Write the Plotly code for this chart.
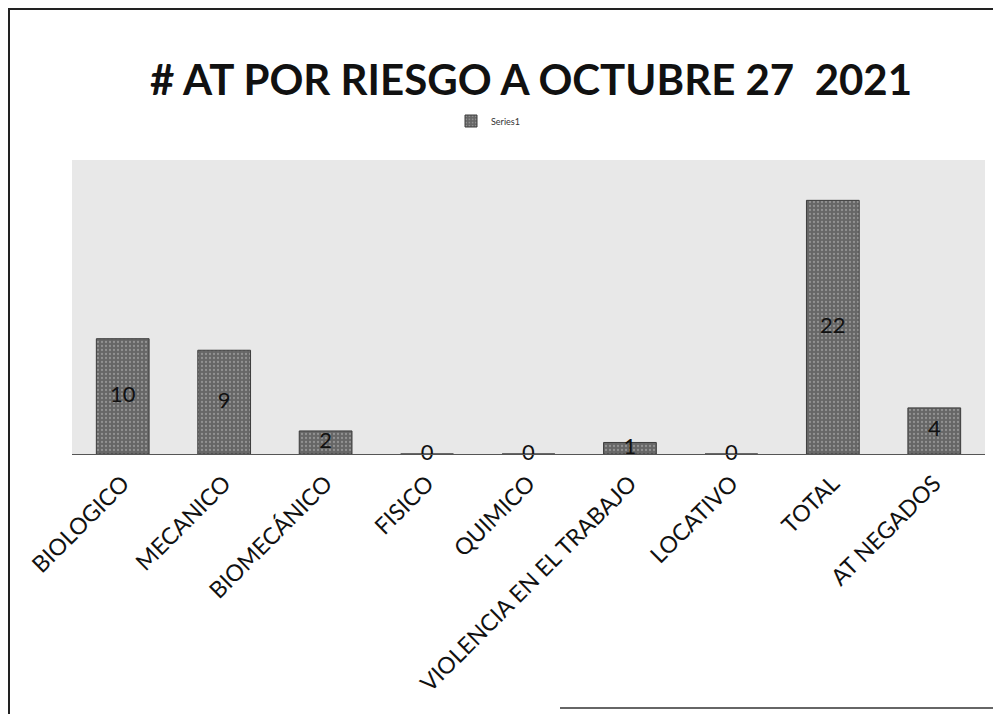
import plotly.graph_objects as go

categories = ["BIOLOGICO", "MECANICO", "BIOMECÁNICO", "FISICO", "QUIMICO",
              "VIOLENCIA EN EL TRABAJO", "LOCATIVO", "TOTAL", "AT NEGADOS"]
values = [10, 9, 2, 0, 0, 1, 0, 22, 4]
series_name = "Series1"
title_text = "# AT POR RIESGO A OCTUBRE 27  2021"

label_y = [v / 2 for v in values]

FONT = "Lato, Open Sans, sans-serif"

fig = go.Figure()
fig.add_trace(go.Bar(
    x=categories, y=values, name=series_name,
    marker=dict(color="#666666", line=dict(color="#3c3c3c", width=1),
                pattern=dict(shape=".", fgcolor="#bdbdbd", size=4, solidity=0.25)),
    showlegend=True,
))
fig.add_trace(go.Scatter(
    x=categories, y=label_y, mode="text", text=[str(v) for v in values],
    textfont=dict(family=FONT, size=22, color="#111111"),
    textposition="middle center", showlegend=False, cliponaxis=False,
    hoverinfo="skip",
))

# page has an 8px body margin; figure coordinates = page coordinates - 8
W, H = 993, 706
L, R, T, B = 64, 16, 152, 260
pw, ph = W - L - R, H - T - B

def px(x):
    return (x - L) / pw

def py(y):
    return (H - B - y) / ph

fig.update_layout(
    width=W, height=H,
    margin=dict(l=L, r=R, t=T, b=B),
    paper_bgcolor="white",
    plot_bgcolor="#e8e8e8",
    bargap=0.48,
    font=dict(family=FONT, color="#111111"),
    title=dict(text="<b>" + title_text + "</b>", x=523 / W, xanchor="center",
               y=1 - 72 / H, yanchor="middle",
               font=dict(family=FONT, size=42, color="#111111")),
    legend=dict(x=px(443), y=py(113), xanchor="left", yanchor="middle",
                font=dict(size=9, color="#333333"), bgcolor="rgba(0,0,0,0)",
                itemwidth=30),
    xaxis=dict(tickangle=-45, tickfont=dict(family=FONT, size=23, color="#111111"),
               ticklabelstandoff=6,
               showline=True, linecolor="#555555", linewidth=1, ticks="",
               showgrid=False),
    yaxis=dict(range=[0, 25.5], visible=False, showgrid=False, zeroline=False),
    shapes=[
        dict(type="line", xref="paper", yref="paper", x0=px(1), x1=px(1), y0=py(0), y1=py(H),
             line=dict(color="#222222", width=2)),
        dict(type="line", xref="paper", yref="paper", x0=px(0), x1=px(W), y0=py(1), y1=py(1),
             line=dict(color="#222222", width=2)),
        dict(type="line", xref="paper", yref="paper", x0=px(552), x1=px(W), y0=py(700), y1=py(700),
             line=dict(color="#333333", width=1.5)),
    ],
)

fig.write_html("out.html")
